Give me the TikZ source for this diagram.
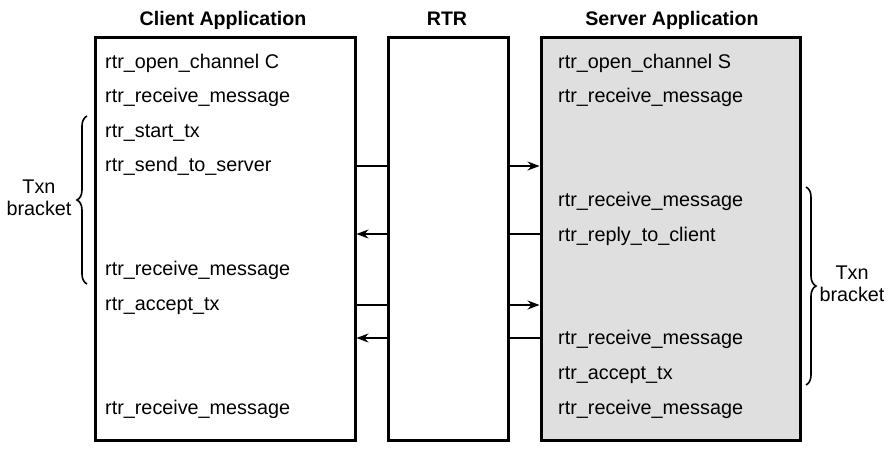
\documentclass[tikz,border=0pt]{standalone}
\usepackage{fontspec}
\setmainfont{Liberation Sans}
\usetikzlibrary{arrows.meta,decorations.pathreplacing}
\begin{document}
\begin{tikzpicture}[x=1pt,y=-1pt,
  box/.style={draw,line width=3pt,inner sep=0pt,anchor=north west,minimum height=403pt},
  lbl/.style={anchor=base west,inner sep=0pt,font=\fontsize{19.8}{22}\selectfont},
  title/.style={anchor=base,inner sep=0pt,font=\fontsize{19.6}{22}\selectfont\bfseries},
  msg/.style={line width=1.2pt},
  tip/.style={-{Stealth[length=12pt,width=9pt,inset=4pt]}},
  brc/.style={decorate,decoration={brace,amplitude=10pt},line width=1.6pt},
  note/.style={align=center,inner sep=0pt,font=\fontsize{19.8}{22}\selectfont}]
\useasboundingbox (0,0) rectangle (896,448);
% boxes
\node[box,minimum width=259.5pt] (client) at (94,35.5) {};
\node[box,minimum width=120pt] (rtr) at (387,35.5) {};
\node[box,minimum width=259pt,fill=gray!25] (server) at (539.5,35.5) {};
% titles
\node[title] (tclient) at (223,25) {Client Application};
\node[title] (trtr) at (447,25) {RTR};
\node[title] (tserver) at (672,25) {Server Application};
% client texts
\node[lbl] (c0) at (105,68) {rtr\_open\_channel C};
\node[lbl] (c1) at (105,102.6) {rtr\_receive\_message};
\node[lbl] (c2) at (105,137.2) {rtr\_start\_tx};
\node[lbl] (c3) at (105,171.8) {rtr\_send\_to\_server};
\node[lbl] (c6) at (105,275.6) {rtr\_receive\_message};
\node[lbl] (c7) at (105,310.2) {rtr\_accept\_tx};
\node[lbl] (c10) at (105,414) {rtr\_receive\_message};
% server texts
\node[lbl] (s0) at (558,68) {rtr\_open\_channel S};
\node[lbl] (s1) at (558,102.6) {rtr\_receive\_message};
\node[lbl] (s4) at (558,206.4) {rtr\_receive\_message};
\node[lbl] (s5) at (558,241) {rtr\_reply\_to\_client};
\node[lbl] (s8) at (558,344.8) {rtr\_receive\_message};
\node[lbl] (s9) at (558,379.4) {rtr\_accept\_tx};
\node[lbl] (s10) at (558,414) {rtr\_receive\_message};
% message levels
\coordinate (a1) at (0,166);
\coordinate (a2) at (0,234);
\coordinate (a3) at (0,305);
\coordinate (a4) at (0,338);
% messages client -> server
\draw[msg] (client.east |- a1) -- (rtr.west |- a1);
\draw[msg,tip] (rtr.east |- a1) -- (server.west |- a1);
\draw[msg] (client.east |- a3) -- (rtr.west |- a3);
\draw[msg,tip] (rtr.east |- a3) -- (server.west |- a3);
% messages server -> client
\draw[msg] (server.west |- a2) -- (rtr.east |- a2);
\draw[msg,tip] (rtr.west |- a2) -- (client.east |- a2);
\draw[msg] (server.west |- a4) -- (rtr.east |- a4);
\draw[msg,tip] (rtr.west |- a4) -- (client.east |- a4);
% braces
\coordinate (lb1) at (87,284);
\coordinate (lb2) at (87,116);
\coordinate (rb1) at (806,187);
\coordinate (rb2) at (806,385);
\draw[brc] (lb1) -- (lb2);
\draw[brc] (rb1) -- (rb2);
\node[note] (ln) at (39,198) {Txn\\bracket};
\node[note] (rn) at (852,284) {Txn\\bracket};
\end{tikzpicture}
\end{document}
